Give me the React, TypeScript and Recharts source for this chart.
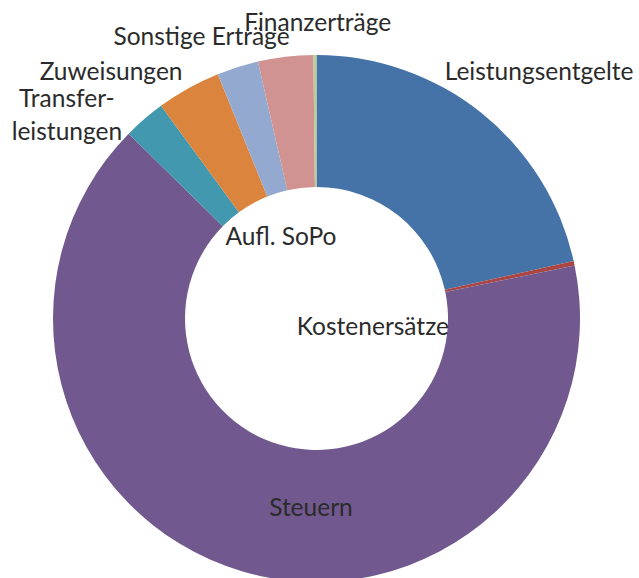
import React from "react"
import { PieChart, Pie, Cell } from "recharts"

// Ertragsarten, clockwise from 12 o'clock
const names = [
  "Leistungsentgelte",
  "Kostenersätze",
  "Steuern",
  "Transferleistungen",
  "Zuweisungen",
  "Sonstige Erträge",
  "Finanzerträge",
  "Aufl. SoPo",
]
const values = [21.5, 0.28, 65.6, 2.58, 3.94, 2.54, 3.38, 0.19]
const colors = ["#4572A7", "#AA4643", "#71588F", "#4198AF", "#DB843D", "#93A9CF", "#D19392", "#B9CD96"]

const data = names.map((name, i) => ({ name, value: values[i] }))

// where Excel put each label: angle offset from slice middle (deg, clockwise) and distance from centre
const labelPlace: Record<string, { shift: number; r: number }> = {
  Leistungsentgelte: { shift: 3.4, r: 332 },
  "Kostenersätze": { shift: 20.6, r: 57 },
  Steuern: { shift: -14.8, r: 190 },
  Transferleistungen: { shift: -10, r: 322 },
  Zuweisungen: { shift: -10.7, r: 321 },
  "Sonstige Erträge": { shift: -4.8, r: 304 },
  "Finanzerträge": { shift: 7, r: 296 },
  "Aufl. SoPo": { shift: -23.2, r: 89 },
}

const RAD = Math.PI / 180
const FONT = "Lato, 'Open Sans', sans-serif"
const FS = 24.5

const renderLabel = (props: any) => {
  const { cx, cy, midAngle, name } = props
  const p = labelPlace[name]
  const ang = (midAngle - p.shift) * RAD
  const x = cx + p.r * Math.cos(-ang)
  const y = cy + p.r * Math.sin(-ang)
  if (name === "Transferleistungen") {
    return (
      <text x={x} y={y} textAnchor="middle" fill="#2b2b2b" fontSize={FS} fontFamily={FONT}>
        <tspan x={x} dy={-8}>Transfer-</tspan>
        <tspan x={x} dy={33}>leistungen</tspan>
      </text>
    )
  }
  return (
    <text x={x} y={y} dy={8} textAnchor="middle" fill="#2b2b2b" fontSize={FS} fontFamily={FONT}>
      {name}
    </text>
  )
}

export default function App() {
  return (
    <div style={{ position: "absolute", left: 0, top: 0, width: 639, height: 578, background: "#fff" }}>
      <PieChart width={639} height={578} margin={{ top: 0, right: 0, bottom: 0, left: 0 }}>
        <Pie
          data={data}
          dataKey="value"
          nameKey="name"
          cx={316.5}
          cy={318.5}
          innerRadius={131.5}
          outerRadius={263.5}
          startAngle={90}
          endAngle={-270}
          stroke="none"
          label={renderLabel}
          labelLine={false}
          isAnimationActive={false}
        >
          {data.map((d, i) => (
            <Cell key={d.name} fill={colors[i]} />
          ))}
        </Pie>
      </PieChart>
    </div>
  )
}
